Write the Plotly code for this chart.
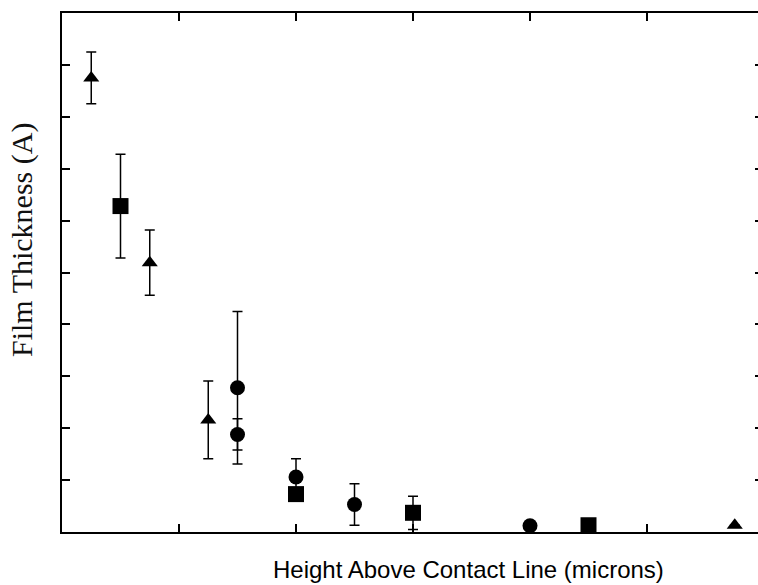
import plotly.graph_objects as go

# Data (x in plot units, y in Angstrom)
tri_x = [0.25, 0.75, 1.25, 5.75]
tri_y = [875, 519, 216, 13]
tri_err = [50, 63, 75, 0]

sq_x = [0.5, 2.0, 3.0, 4.5]
sq_y = [628, 73, 37, 13]
sq_err = [100, 0, 32, 0]

circ_x = [1.5, 1.5, 2.0, 2.5, 4.0]
circ_y = [278, 188, 106, 53, 12]
circ_err = [147, 30, 35, 40, 0]

x_title = "Height Above Contact Line (microns)"
y_title = "Film Thickness (A)"

W, H = 758, 585
ML, MR, MT, MB = 62, 0, 13, 53
plot_w = W - ML - MR
plot_h = H - MT - MB
px_per_x = 117.0
x_max = plot_w / px_per_x

fig = go.Figure()

def err(vals):
    return dict(type="data", array=vals, visible=True, color="black",
                thickness=1.5, width=5)

fig.add_trace(go.Scatter(x=circ_x, y=circ_y, mode="markers",
                         marker=dict(symbol="circle", size=15, color="black"),
                         error_y=err(circ_err), showlegend=False))
fig.add_trace(go.Scatter(x=sq_x, y=sq_y, mode="markers",
                         marker=dict(symbol="square", size=16, color="black"),
                         error_y=err(sq_err), showlegend=False))
fig.add_trace(go.Scatter(x=tri_x, y=tri_y, mode="markers",
                         marker=dict(symbol="triangle-up", size=14, color="black"),
                         error_y=err(tri_err), showlegend=False))
# empty trace to anchor right-side tick axis
fig.add_trace(go.Scatter(x=[], y=[], yaxis="y2", showlegend=False))

fig.update_layout(
    width=W, height=H,
    margin=dict(l=ML, r=MR, t=MT, b=MB, pad=0),
    paper_bgcolor="white", plot_bgcolor="white",
    xaxis=dict(range=[0, x_max], tick0=0, dtick=1, ticks="inside", ticklen=8,
               tickwidth=1.5, tickcolor="black", showline=True, linewidth=2,
               linecolor="black", mirror="ticks", showgrid=False,
               zeroline=False, showticklabels=False),
    yaxis=dict(range=[0, 1000], tick0=0, dtick=100, ticks="inside", ticklen=8,
               tickwidth=1.5, tickcolor="black", showline=True, linewidth=2,
               linecolor="black", showgrid=False, zeroline=False,
               showticklabels=False),
    yaxis2=dict(range=[0, 1000], tick0=0, dtick=100, overlaying="y",
                side="right", ticks="inside", ticklen=3, tickwidth=1.5,
                tickcolor="black", showline=False, showgrid=False,
                zeroline=False, showticklabels=False),
    annotations=[
        dict(text=x_title, xref="paper", yref="paper",
             x=(468.5 - ML) / plot_w, y=(MT + plot_h - 569) / plot_h,
             xanchor="center", yanchor="middle", showarrow=False,
             font=dict(family="Liberation Sans, Arial", size=24, color="black")),
        dict(text=y_title, xref="paper", yref="paper", textangle=-90,
             x=(22 - ML) / plot_w, y=(MT + plot_h - 240) / plot_h,
             xanchor="center", yanchor="middle", showarrow=False,
             font=dict(family="Liberation Serif, Times New Roman", size=30,
                       color="#111111")),
    ],
)

fig.write_html(
    "out.html",
    config={"displayModeBar": False},
    post_script="document.body.style.margin='0';document.body.style.overflow='hidden';",
)
